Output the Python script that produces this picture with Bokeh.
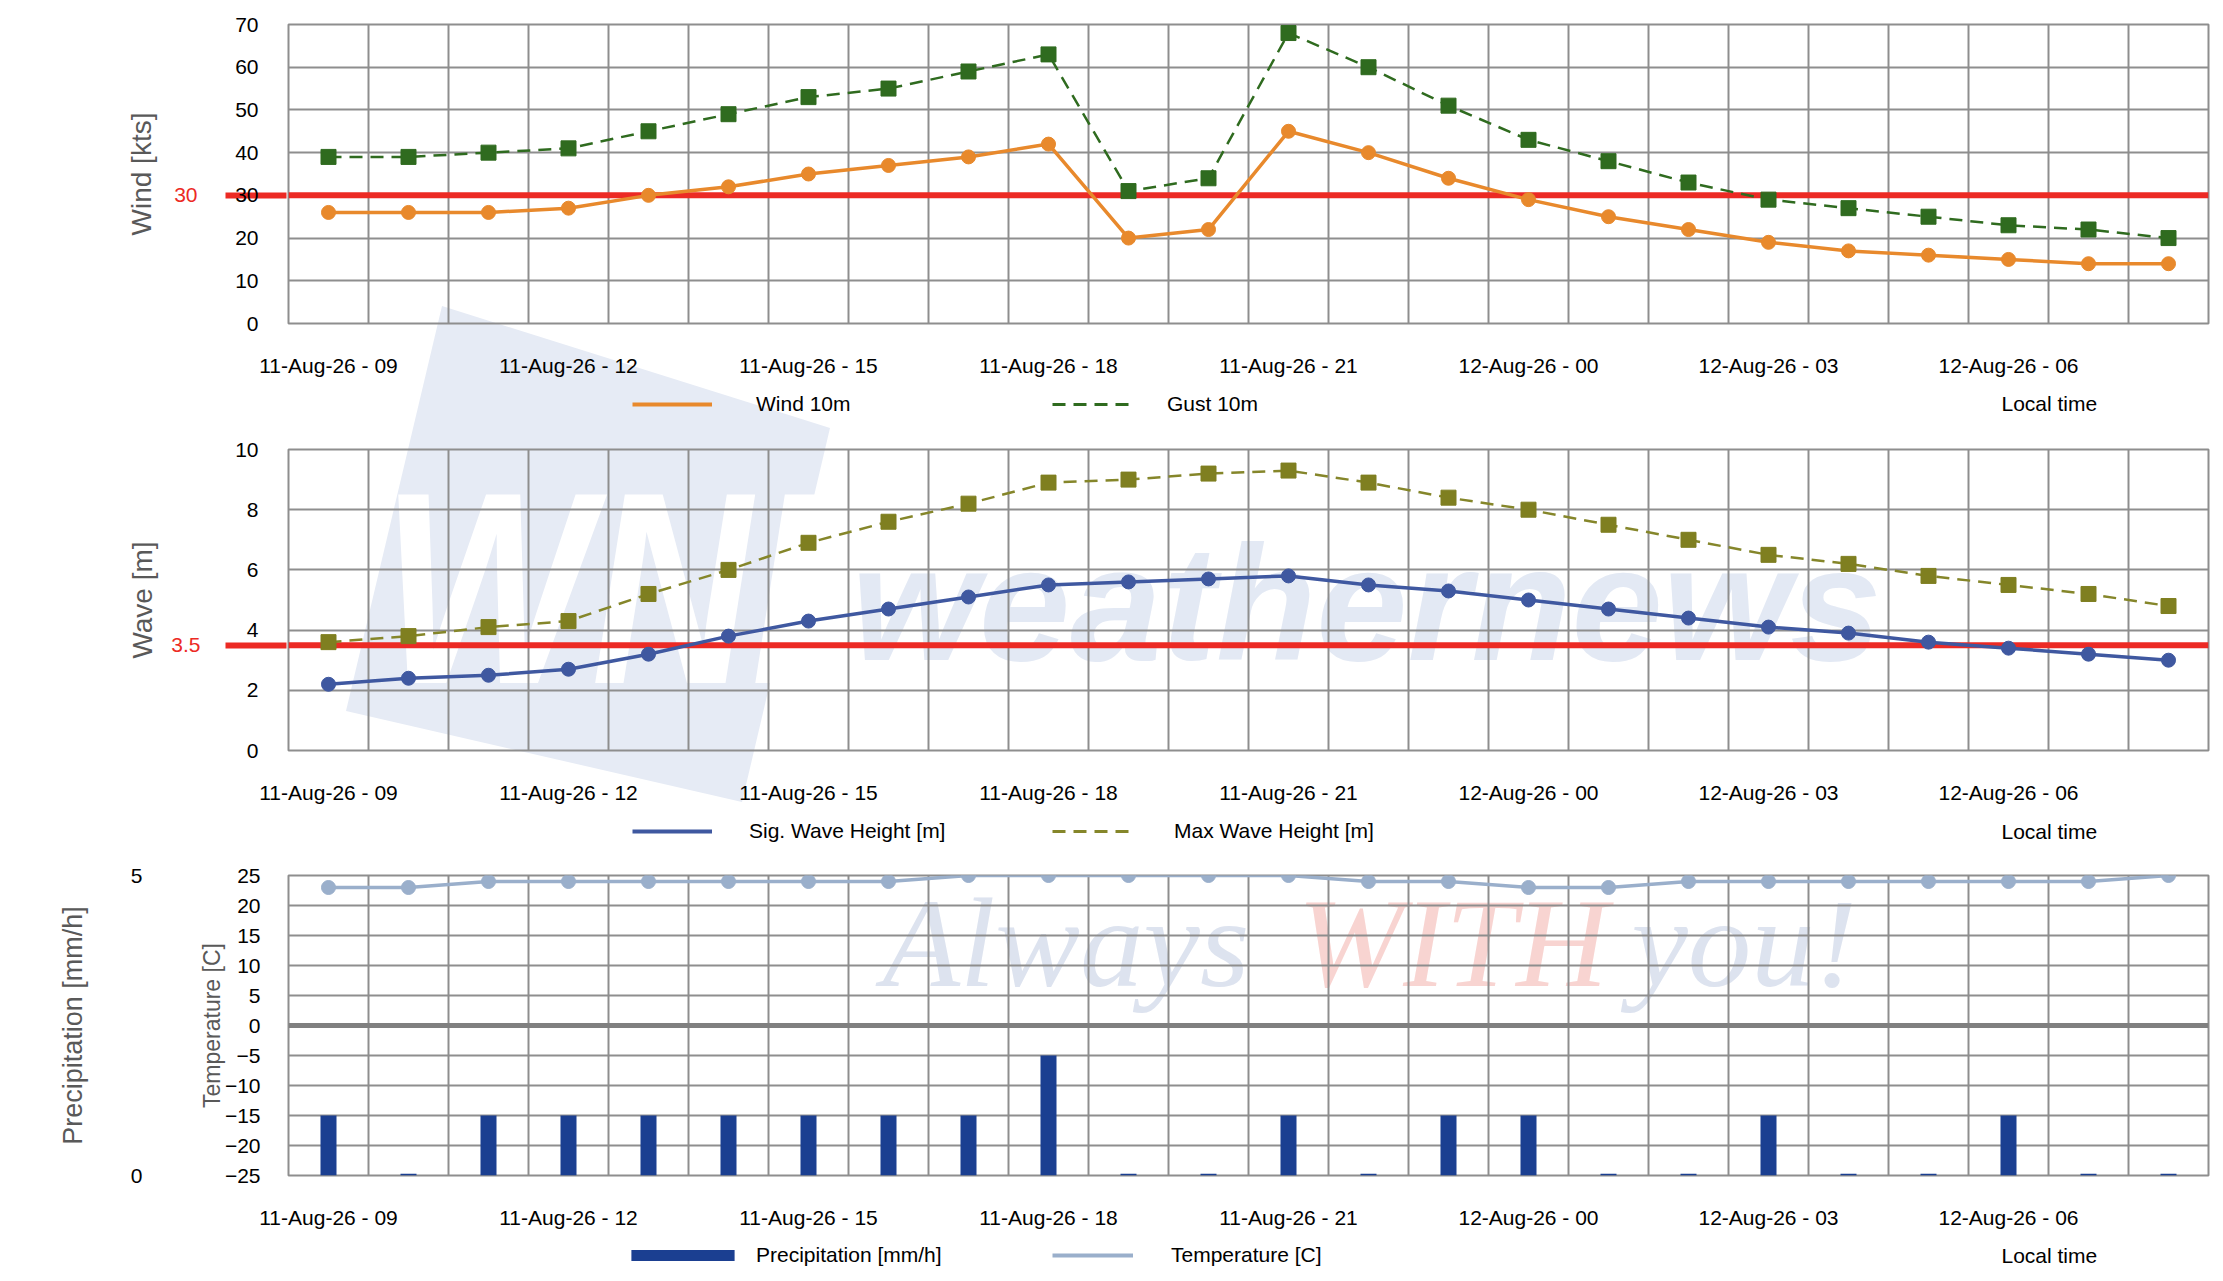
import urllib.parse
from bokeh.plotting import figure
from bokeh.models import (ColumnDataSource, FixedTicker, Range1d, LinearAxis, Legend,
                          LegendItem, Label, Span)
from bokeh.layouts import column
from bokeh.embed import file_html
from bokeh.resources import INLINE

# ---------------- data ----------------
times = ["11-Aug-26 - 09", "11-Aug-26 - 10", "11-Aug-26 - 11", "11-Aug-26 - 12",
         "11-Aug-26 - 13", "11-Aug-26 - 14", "11-Aug-26 - 15", "11-Aug-26 - 16",
         "11-Aug-26 - 17", "11-Aug-26 - 18", "11-Aug-26 - 19", "11-Aug-26 - 20",
         "11-Aug-26 - 21", "11-Aug-26 - 22", "11-Aug-26 - 23", "12-Aug-26 - 00",
         "12-Aug-26 - 01", "12-Aug-26 - 02", "12-Aug-26 - 03", "12-Aug-26 - 04",
         "12-Aug-26 - 05", "12-Aug-26 - 06", "12-Aug-26 - 07", "12-Aug-26 - 08"]
wind_10m = [26, 26, 26, 27, 30, 32, 35, 37, 39, 42, 20, 22, 45, 40, 34, 29, 25, 22, 19, 17, 16, 15, 14, 14]
gust_10m = [39, 39, 40, 41, 45, 49, 53, 55, 59, 63, 31, 34, 68, 60, 51, 43, 38, 33, 29, 27, 25, 23, 22, 20]
sig_wave = [2.2, 2.4, 2.5, 2.7, 3.2, 3.8, 4.3, 4.7, 5.1, 5.5, 5.6, 5.7, 5.8, 5.5, 5.3, 5.0, 4.7, 4.4, 4.1, 3.9, 3.6, 3.4, 3.2, 3.0]
max_wave = [3.6, 3.8, 4.1, 4.3, 5.2, 6.0, 6.9, 7.6, 8.2, 8.9, 9.0, 9.2, 9.3, 8.9, 8.4, 8.0, 7.5, 7.0, 6.5, 6.2, 5.8, 5.5, 5.2, 4.8]
temperature = [23, 23, 24, 24, 24, 24, 24, 24, 25, 25, 25, 25, 25, 24, 24, 23, 23, 24, 24, 24, 24, 24, 24, 25]
precipitation = [1.0, 0.03, 1.0, 1.0, 1.0, 1.0, 1.0, 1.0, 1.0, 2.0, 0.03, 0.03, 1.0, 0.03, 1.0, 1.0, 0.03, 0.03, 1.0, 0.03, 0.03, 1.0, 0.03, 0.03]
wind_threshold = 30
wave_threshold = 3.5
wind_ticks = [0, 10, 20, 30, 40, 50, 60, 70]
wave_ticks = [0, 2, 4, 6, 8, 10]
temp_ticks = [-25, -20, -15, -10, -5, 0, 5, 10, 15, 20, 25]
precip_ticks = [0, 5]
label_every = 3

idx = list(range(len(times)))
src = ColumnDataSource(dict(x=idx, wind=wind_10m, gust=gust_10m, sig=sig_wave, mx=max_wave,
                            temp=temperature, prec=precipitation))

FONT = "Liberation Sans"
GRID = "#8e8e8e"
RED = "#ec2a24"
TITLE_COLOR = "#595959"
W = 2215
FRAME_LEFT = 288
ORANGE, GREEN, BLUE, OLIVE, LBLUE, DBLUE = "#e8892c", "#2f6b1f", "#3f58a0", "#7f7f20", "#9aafcb", "#1b3f91"


def clear(p):
    p.background_fill_alpha = 0
    p.border_fill_alpha = 0


def make_fig(height, top, bottom, yr, yticks):
    p = figure(width=W, height=height, x_range=Range1d(-0.5, len(times) - 0.5), y_range=yr,
               output_backend="svg", toolbar_location=None,
               min_border_left=FRAME_LEFT, min_border_right=7,
               min_border_top=top, min_border_bottom=bottom)
    clear(p)
    p.outline_line_color = GRID
    p.outline_line_width = 2
    xt = [i for i in idx if i % label_every == 0]
    p.xaxis.ticker = FixedTicker(ticks=xt)
    p.xaxis.major_label_overrides = {i: times[i] for i in xt}
    p.xaxis.axis_line_color = None
    p.xaxis.major_tick_line_color = None
    p.xaxis.minor_tick_line_color = None
    p.xaxis.major_tick_out = 0
    p.xaxis.major_label_standoff = 30
    p.xaxis.major_label_text_font = FONT
    p.xaxis.major_label_text_font_size = "21px"
    p.xaxis.major_label_text_color = "black"
    p.xgrid.ticker = FixedTicker(ticks=[i - 0.5 for i in range(len(times) + 1)])
    p.xgrid.grid_line_color = GRID
    p.xgrid.grid_line_width = 2
    p.yaxis.ticker = FixedTicker(ticks=yticks)
    p.yaxis.axis_line_color = None
    p.yaxis.major_tick_line_color = None
    p.yaxis.minor_tick_line_color = None
    p.yaxis.major_tick_out = 0
    p.yaxis.major_label_standoff = 30
    p.yaxis.major_label_text_font = FONT
    p.yaxis.major_label_text_font_size = "21px"
    p.yaxis.major_label_text_color = "black"
    p.yaxis[0].level = "annotation"   # tick labels painted over the red threshold tick
    p.ygrid.ticker = FixedTicker(ticks=yticks)
    p.ygrid.grid_line_color = GRID
    p.ygrid.grid_line_width = 2
    return p


def title_style(ax, text, size, standoff):
    ax.axis_label = text
    ax.axis_label_text_font = FONT
    ax.axis_label_text_font_size = size
    ax.axis_label_text_font_style = "normal"
    ax.axis_label_text_color = TITLE_COLOR
    ax.axis_label_standoff = standoff


def threshold(p, yv, label_standoff, title, title_standoff):
    # red reference line inside the frame
    p.add_layout(Span(location=yv, dimension="width", line_color=RED, line_width=6, level="underlay"))
    # outer axis: red tick running under the tick labels, red value, axis title
    ax = LinearAxis(ticker=FixedTicker(ticks=[yv]), axis_line_color=None,
                    major_tick_line_color=RED, major_tick_line_width=6,
                    major_tick_in=54, major_tick_out=7, minor_tick_line_color=None,
                    major_label_standoff=label_standoff, major_label_text_color=RED,
                    major_label_text_font=FONT, major_label_text_font_size="21px")
    title_style(ax, title, "28px", title_standoff)
    p.add_layout(ax, "left")


def legend_fig(local_dy):
    q = figure(width=W, height=42, x_range=Range1d(-0.5, len(times) - 0.5), y_range=Range1d(0, 1),
               x_axis_type=None, y_axis_type=None, output_backend="svg", toolbar_location=None,
               min_border_left=FRAME_LEFT, min_border_right=7, min_border_top=0, min_border_bottom=0)
    clear(q)
    q.outline_line_color = None
    q.add_layout(Label(x=len(times) - 0.5, y=0, x_offset=-207, y_offset=local_dy, text="Local time",
                       text_font=FONT, text_font_size="21px", text_color="black",
                       text_baseline="middle", text_align="left"))
    return q


def one_legend(q, label, rend, x, y, gw, gh, standoff):
    lg = Legend(items=[LegendItem(label=label, renderers=[rend])], location=(x, y),
                orientation="horizontal", background_fill_alpha=0, border_line_alpha=0,
                padding=0, margin=0, glyph_width=gw, glyph_height=gh, label_height=gh,
                label_standoff=standoff, label_text_font=FONT, label_text_font_size="21px",
                label_text_color="black", label_text_baseline="middle")
    q.add_layout(lg)


# ---------------- panel 1: wind ----------------
p1 = make_fig(385, 24, 62, Range1d(0, 70), wind_ticks)
threshold(p1, wind_threshold, 28, "Wind [kts]", 14)
p1.line("x", "wind", source=src, line_color=ORANGE, line_width=3.5)
p1.scatter("x", "wind", source=src, marker="circle", size=14, fill_color=ORANGE, line_color=ORANGE)
p1.line("x", "gust", source=src, line_color=GREEN, line_width=2.5, line_dash="13 8")
p1.scatter("x", "gust", source=src, marker="square", size=15, fill_color=GREEN, line_color=GREEN)

q1 = legend_fig(24)
lw = q1.line("x", "wind", source=src, line_color=ORANGE, line_width=4, visible=False)
lgst = q1.line("x", "gust", source=src, line_color=GREEN, line_width=3, line_dash="13 8", visible=False)
one_legend(q1, "Wind 10m", lw, 632 - FRAME_LEFT, 11, 80, 20, 44)
one_legend(q1, "Gust 10m", lgst, 1052 - FRAME_LEFT, 11, 81, 20, 34)

# ---------------- panel 2: wave ----------------
p2 = make_fig(384, 22, 61, Range1d(0, 10), wave_ticks)
p2.add_layout(Label(x=-0.5, y=0, x_offset=563, y_offset=56, text="weathernews", text_font=FONT,
                    text_font_style="bold italic", text_font_size="164px", text_color="#e3e9f4",
                    text_baseline="bottom", level="image"))
threshold(p2, wave_threshold, 25, "Wave [m]", 10)
p2.line("x", "sig", source=src, line_color=BLUE, line_width=3.5)
p2.scatter("x", "sig", source=src, marker="circle", size=14, fill_color=BLUE, line_color=BLUE)
p2.line("x", "mx", source=src, line_color="#85862a", line_width=2.5, line_dash="13 8")
p2.scatter("x", "mx", source=src, marker="square", size=15, fill_color=OLIVE, line_color=OLIVE)

q2 = legend_fig(22)
ls = q2.line("x", "sig", source=src, line_color=BLUE, line_width=4, visible=False)
lm = q2.line("x", "mx", source=src, line_color="#85862a", line_width=3, line_dash="13 8", visible=False)
one_legend(q2, "Sig. Wave Height [m]", ls, 632 - FRAME_LEFT, 10, 80, 20, 37)
one_legend(q2, "Max Wave Height [m]", lm, 1052 - FRAME_LEFT, 10, 81, 20, 41)

# ---------------- panel 3: precipitation / temperature ----------------
p3 = make_fig(382, 22, 60, Range1d(-25, 25), temp_ticks)
p3.yaxis.major_label_standoff = 28
title_style(p3.yaxis[0], "Temperature [C]", "23px", -3)
p3.extra_y_ranges = {"precip": Range1d(0, 5)}
pax = LinearAxis(y_range_name="precip", ticker=FixedTicker(ticks=precip_ticks), axis_line_color=None,
                 major_tick_line_color=None, minor_tick_line_color=None, major_tick_out=0,
                 major_label_standoff=53, major_label_text_font=FONT,
                 major_label_text_font_size="21px", major_label_text_color="black")
title_style(pax, "Precipitation [mm/h]", "27px", 40)
p3.add_layout(pax, "left")
for txt, xo, col in [("Always", 594, "#dde3ef"), ("WITH", 1009, "#f8d4d1"), ("you!", 1343, "#dde3ef")]:
    p3.add_layout(Label(x=-0.5, y=-25, x_offset=xo, y_offset=163, text=txt,
                        text_font="Liberation Serif", text_font_style="italic",
                        text_font_size="127px", text_color=col, text_baseline="bottom",
                        level="image"))
p3.add_layout(Span(location=0, dimension="width", line_color="#808080", line_width=5, level="underlay"))
p3.vbar(x="x", top="prec", bottom=0, width=0.2, source=src, y_range_name="precip",
        fill_color=DBLUE, line_color=DBLUE, line_width=0)
p3.line("x", "temp", source=src, line_color=LBLUE, line_width=3.5)
p3.scatter("x", "temp", source=src, marker="circle", size=14, fill_color=LBLUE, line_color=LBLUE)

q3 = legend_fig(22)
lp = q3.vbar(x="x", top="prec", width=0.2, source=src, fill_color=DBLUE, line_color=DBLUE,
             line_width=0, visible=False)
lt = q3.line("x", "temp", source=src, line_color=LBLUE, line_width=4, visible=False)
one_legend(q3, "Precipitation [mm/h]", lp, 631 - 13 - FRAME_LEFT, 10, 129, 14, 9)
one_legend(q3, "Temperature [C]", lt, 1052 - FRAME_LEFT, 10, 81, 20, 38)

# ---------------- logo watermark behind the panels ----------------
logo_svg = ('<svg xmlns="http://www.w3.org/2000/svg" width="2215" height="1280">'
            '<polygon points="442,306 830,428 742,802 346,711" fill="#e6ebf5"/>'
            '<text x="382" y="683" font-family="Liberation Sans" font-weight="bold" font-style="italic" '
            'font-size="274" fill="#ffffff" textLength="431" lengthAdjust="spacingAndGlyphs">WNI</text>'
            '</svg>')
bg = "url(\"data:image/svg+xml;charset=utf-8," + urllib.parse.quote(logo_svg, safe="") + "\")"

layout = column(p1, q1, p2, q2, p3, q3, spacing=0,
                styles={"background-image": bg, "background-repeat": "no-repeat",
                        "background-position": "0px 0px"})
with open("out.html", "w") as f:
    f.write(file_html(layout, INLINE))
